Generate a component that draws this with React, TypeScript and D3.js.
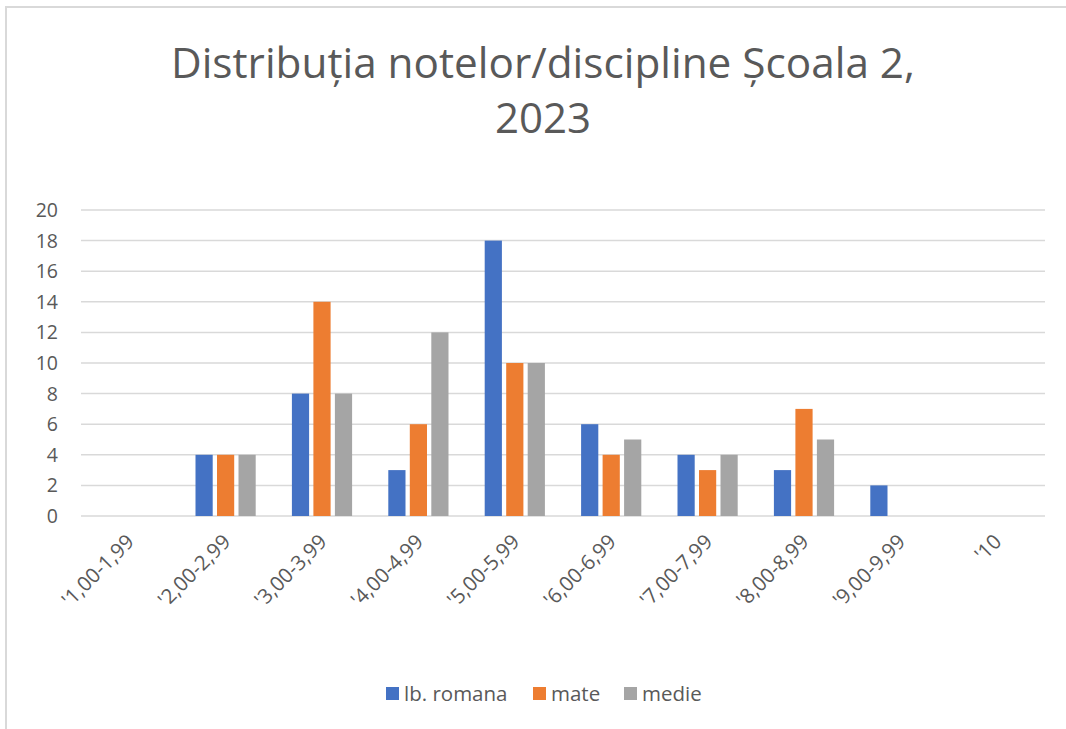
import React, { useEffect, useRef } from 'react';
import * as d3 from 'd3';

const categories = ["'1,00-1,99", "'2,00-2,99", "'3,00-3,99", "'4,00-4,99", "'5,00-5,99", "'6,00-6,99", "'7,00-7,99", "'8,00-8,99", "'9,00-9,99", "'10"];
const seriesNames = ['lb. romana', 'mate', 'medie'];
const romana = [0, 4, 8, 3, 18, 6, 4, 3, 2, 0];
const mate = [0, 4, 14, 6, 10, 4, 3, 7, 0, 0];
const medie = [0, 4, 8, 12, 10, 5, 4, 5, 0, 0];
const colors = ['#4472c4', '#ed7d31', '#a5a5a5'];
const yTicks = [0, 2, 4, 6, 8, 10, 12, 14, 16, 18, 20];

const W = 1066;
const H = 729;
const FONT = '"Open Sans", "Noto Sans", sans-serif';

export default function App() {
  const svgRef = useRef<SVGSVGElement>(null);

  useEffect(() => {
    if (!svgRef.current) return;
    const svg = d3.select(svgRef.current);
    svg.selectAll('*').remove();

    const margin = { top: 210, right: 21, bottom: 213, left: 81 };
    const values = [romana, mate, medie];

    // chart frame (right/bottom edges run off the page)
    svg.append('path')
      .attr('d', `M6,${H} V7 H${W}`)
      .attr('fill', 'none')
      .attr('stroke', '#d9d9d9')
      .attr('stroke-width', 2);

    // title
    const title = svg.append('text')
      .attr('text-anchor', 'middle')
      .style('font-family', FONT)
      .style('font-size', '42px')
      .style('fill', '#595959');
    title.append('tspan').attr('x', 543).attr('y', 78)
      .attr('textLength', 744).attr('lengthAdjust', 'spacingAndGlyphs')
      .text('Distribuția notelor/discipline Școala 2,');
    title.append('tspan').attr('x', 543).attr('y', 133).text('2023');

    const x = d3.scaleBand<string>()
      .domain(categories)
      .range([margin.left, W - margin.right])
      .paddingInner(0)
      .paddingOuter(0);

    const xInner = d3.scaleBand<string>()
      .domain(seriesNames)
      .range([-32.25, 32.25])
      .paddingInner(0.2)
      .paddingOuter(0.1);

    const y = d3.scaleLinear()
      .domain([0, 20])
      .range([H - margin.bottom, margin.top]);

    // gridlines
    svg.append('g')
      .selectAll('line')
      .data(yTicks)
      .enter().append('line')
      .attr('x1', margin.left)
      .attr('x2', W - margin.right)
      .attr('y1', d => y(d))
      .attr('y2', d => y(d))
      .attr('stroke', '#d9d9d9')
      .attr('stroke-width', 1.5);

    // y labels
    svg.append('g')
      .selectAll('text')
      .data(yTicks)
      .enter().append('text')
      .attr('x', 58)
      .attr('y', d => y(d))
      .attr('dy', '0.36em')
      .attr('text-anchor', 'end')
      .style('font-family', FONT)
      .style('font-size', '19.5px')
      .style('fill', '#595959')
      .text(d => d);

    // bars
    seriesNames.forEach((name, si) => {
      svg.append('g')
        .selectAll('rect')
        .data(values[si].map((v, i) => ({ cat: categories[i], v })))
        .enter().append('rect')
        .attr('x', d => (x(d.cat) as number) + x.bandwidth() / 2 + (xInner(name) as number))
        .attr('y', d => y(d.v))
        .attr('width', xInner.bandwidth())
        .attr('height', d => y(0) - y(d.v))
        .attr('fill', colors[si]);
    });

    // x labels
    svg.append('g')
      .selectAll('text')
      .data(categories)
      .enter().append('text')
      .attr('transform', d => `translate(${(x(d) as number) + x.bandwidth() / 2 + 1},${y(0) + 22}) rotate(-45)`)
      .attr('text-anchor', 'end')
      .attr('dy', '0.35em')
      .style('font-family', FONT)
      .style('font-size', '20.5px')
      .style('fill', '#595959')
      .text(d => d);

    // legend
    const legendX = [386, 533, 624];
    const legend = svg.append('g');
    seriesNames.forEach((name, i) => {
      legend.append('rect')
        .attr('x', legendX[i]).attr('y', 687)
        .attr('width', 13).attr('height', 13)
        .attr('fill', colors[i]);
      legend.append('text')
        .attr('x', legendX[i] + 18).attr('y', 694)
        .attr('dy', '0.36em')
        .style('font-family', FONT)
        .style('font-size', '20.5px')
        .style('fill', '#595959')
        .text(name);
    });
  }, []);

  return (
    <div style={{ position: 'absolute', left: 0, top: 0 }}>
      <svg ref={svgRef} width={W} height={H} style={{ display: 'block' }} />
    </div>
  );
}
